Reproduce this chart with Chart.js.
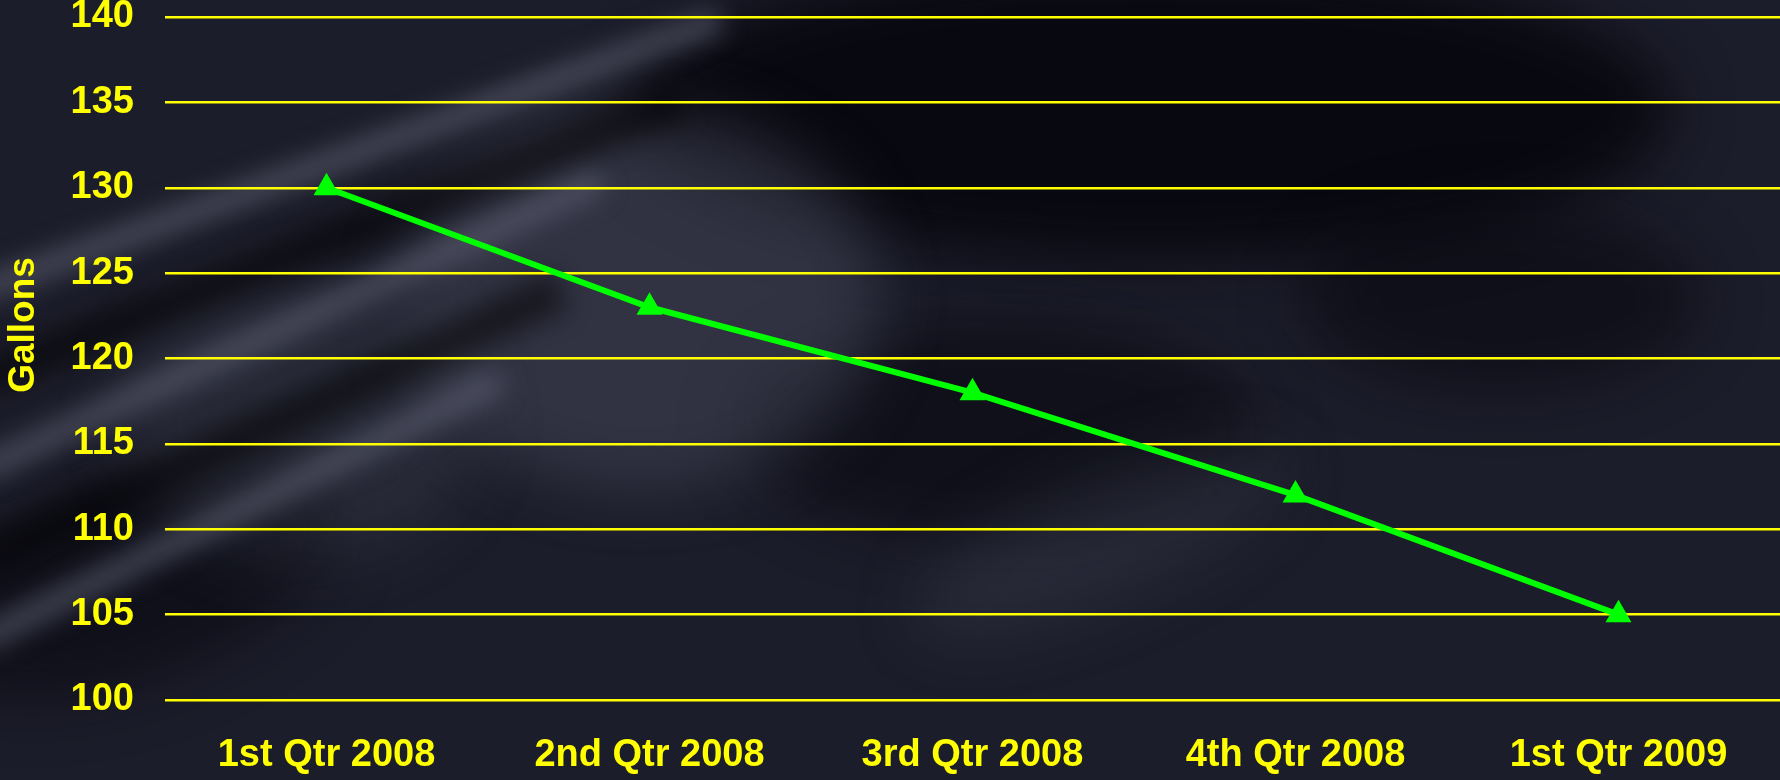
<!DOCTYPE html>
<html lang="en">
<head>
  <meta charset="UTF-8" />
  <title>Gallons per quarter</title>
  <script src="https://cdn.jsdelivr.net/npm/chart.js"></script>
  <style>
    html, body { margin: 0; padding: 0; width: 1780px; height: 780px; overflow: hidden; background: #1b1c28; }
    canvas { display: block; }
  </style>
</head>
<body>
  <canvas id="lineChart" width="1780" height="780"></canvas>

  <script>
    // Quarters on the x axis
    const quarters = ["1st Qtr 2008", "2nd Qtr 2008", "3rd Qtr 2008", "4th Qtr 2008", "1st Qtr 2009"];
    // Gallons for each quarter
    const gallons = [130, 123, 118, 112, 105];
    // Y axis range and step
    const yMin = 100;
    const yMax = 140;
    const yStep = 5;
    const yTitle = "Gallons";

    const yellow = "#ffff00";
    const green = "#00ff00";
    const fontFamily = "'Liberation Sans', Arial, sans-serif";

    // blurred dark photo behind the chart
    const backdrop = {
      id: "backdrop",
      beforeDraw(chart) {
        const ctx = chart.ctx;
        const w = chart.width, h = chart.height;
        ctx.save();
        ctx.fillStyle = "#1c1d2a";
        ctx.fillRect(0, 0, w, h);
        ctx.filter = "blur(30px)";
        // dark areas
        ctx.fillStyle = "rgba(5,5,12,0.85)";
        ctx.beginPath(); ctx.ellipse(1150, 110, 520, 150, 0, 0, Math.PI * 2); ctx.fill();
        ctx.fillStyle = "rgba(5,5,12,0.55)";
        ctx.beginPath(); ctx.ellipse(130, 580, 220, 100, -0.35, 0, Math.PI * 2); ctx.fill();
        ctx.beginPath(); ctx.ellipse(1000, 430, 260, 110, 0, 0, Math.PI * 2); ctx.fill();
        ctx.beginPath(); ctx.ellipse(1500, 300, 200, 90, 0, 0, Math.PI * 2); ctx.fill();
        // lighter blurred shapes
        ctx.fillStyle = "rgba(70,72,90,0.5)";
        ctx.beginPath(); ctx.ellipse(640, 300, 240, 190, 0, 0, Math.PI * 2); ctx.fill();
        ctx.fillStyle = "rgba(70,72,90,0.3)";
        ctx.beginPath(); ctx.ellipse(1100, 540, 200, 60, -0.4, 0, Math.PI * 2); ctx.fill();
        ctx.beginPath(); ctx.ellipse(300, 420, 180, 140, 0, 0, Math.PI * 2); ctx.fill();
        // diagonal streaks on the left
        ctx.filter = "blur(12px)";
        ctx.strokeStyle = "rgba(95,96,115,0.6)";
        ctx.lineWidth = 26;
        [[-20, 290, 720, 20], [-20, 470, 600, 180], [-20, 640, 500, 380]].forEach(s => {
          ctx.beginPath(); ctx.moveTo(s[0], s[1]); ctx.lineTo(s[2], s[3]); ctx.stroke();
        });
        ctx.strokeStyle = "rgba(0,0,0,0.5)";
        ctx.lineWidth = 40;
        [[-20, 380, 680, 100], [-20, 560, 560, 290]].forEach(s => {
          ctx.beginPath(); ctx.moveTo(s[0], s[1]); ctx.lineTo(s[2], s[3]); ctx.stroke();
        });
        ctx.restore();
      }
    };

    // rotated y axis title, sitting a little above the middle like the original
    const sideTitle = {
      id: "sideTitle",
      afterDraw(chart) {
        const ctx = chart.ctx;
        ctx.save();
        ctx.translate(24, 325);
        ctx.rotate(-Math.PI / 2);
        ctx.font = "bold 37px " + fontFamily;
        ctx.fillStyle = yellow;
        ctx.textAlign = "center";
        ctx.textBaseline = "middle";
        ctx.fillText(yTitle, 0, 0);
        ctx.restore();
      }
    };

    new Chart(document.getElementById("lineChart"), {
      type: "line",
      data: {
        labels: quarters,
        datasets: [{
          label: yTitle,
          data: gallons,
          borderColor: green,
          backgroundColor: green,
          borderWidth: 6,
          pointStyle: "triangle",
          pointRadius: 15,
          pointHoverRadius: 15,
          pointBorderWidth: 0,
          tension: 0,
          fill: false
        }]
      },
      options: {
        responsive: false,
        animation: false,
        layout: { autoPadding: false, padding: { left: 0, right: 0, top: 17, bottom: 0 } },
        plugins: {
          legend: { display: false },
          tooltip: { enabled: false }
        },
        scales: {
          x: {
            offset: true,
            grid: { display: false, drawTicks: false },
            border: { display: false },
            afterFit(axis) { axis.height = 80; },
            ticks: {
              color: yellow,
              font: { family: fontFamily, size: 38, weight: "bold", lineHeight: 1.2 },
              padding: 33,
              maxRotation: 0,
              autoSkip: false
            }
          },
          y: {
            min: yMin,
            max: yMax,
            afterFit(axis) {
              axis.width = 165;
              axis.paddingTop = 0;
              axis.paddingBottom = 0;
            },
            grid: { color: yellow, lineWidth: 2.5, drawTicks: false },
            border: { display: false },
            ticks: {
              stepSize: yStep,
              color: yellow,
              font: { family: fontFamily, size: 38, weight: "bold", lineHeight: 0.8 },
              padding: 31
            }
          }
        }
      },
      plugins: [backdrop, sideTitle]
    });
  </script>
</body>
</html>
